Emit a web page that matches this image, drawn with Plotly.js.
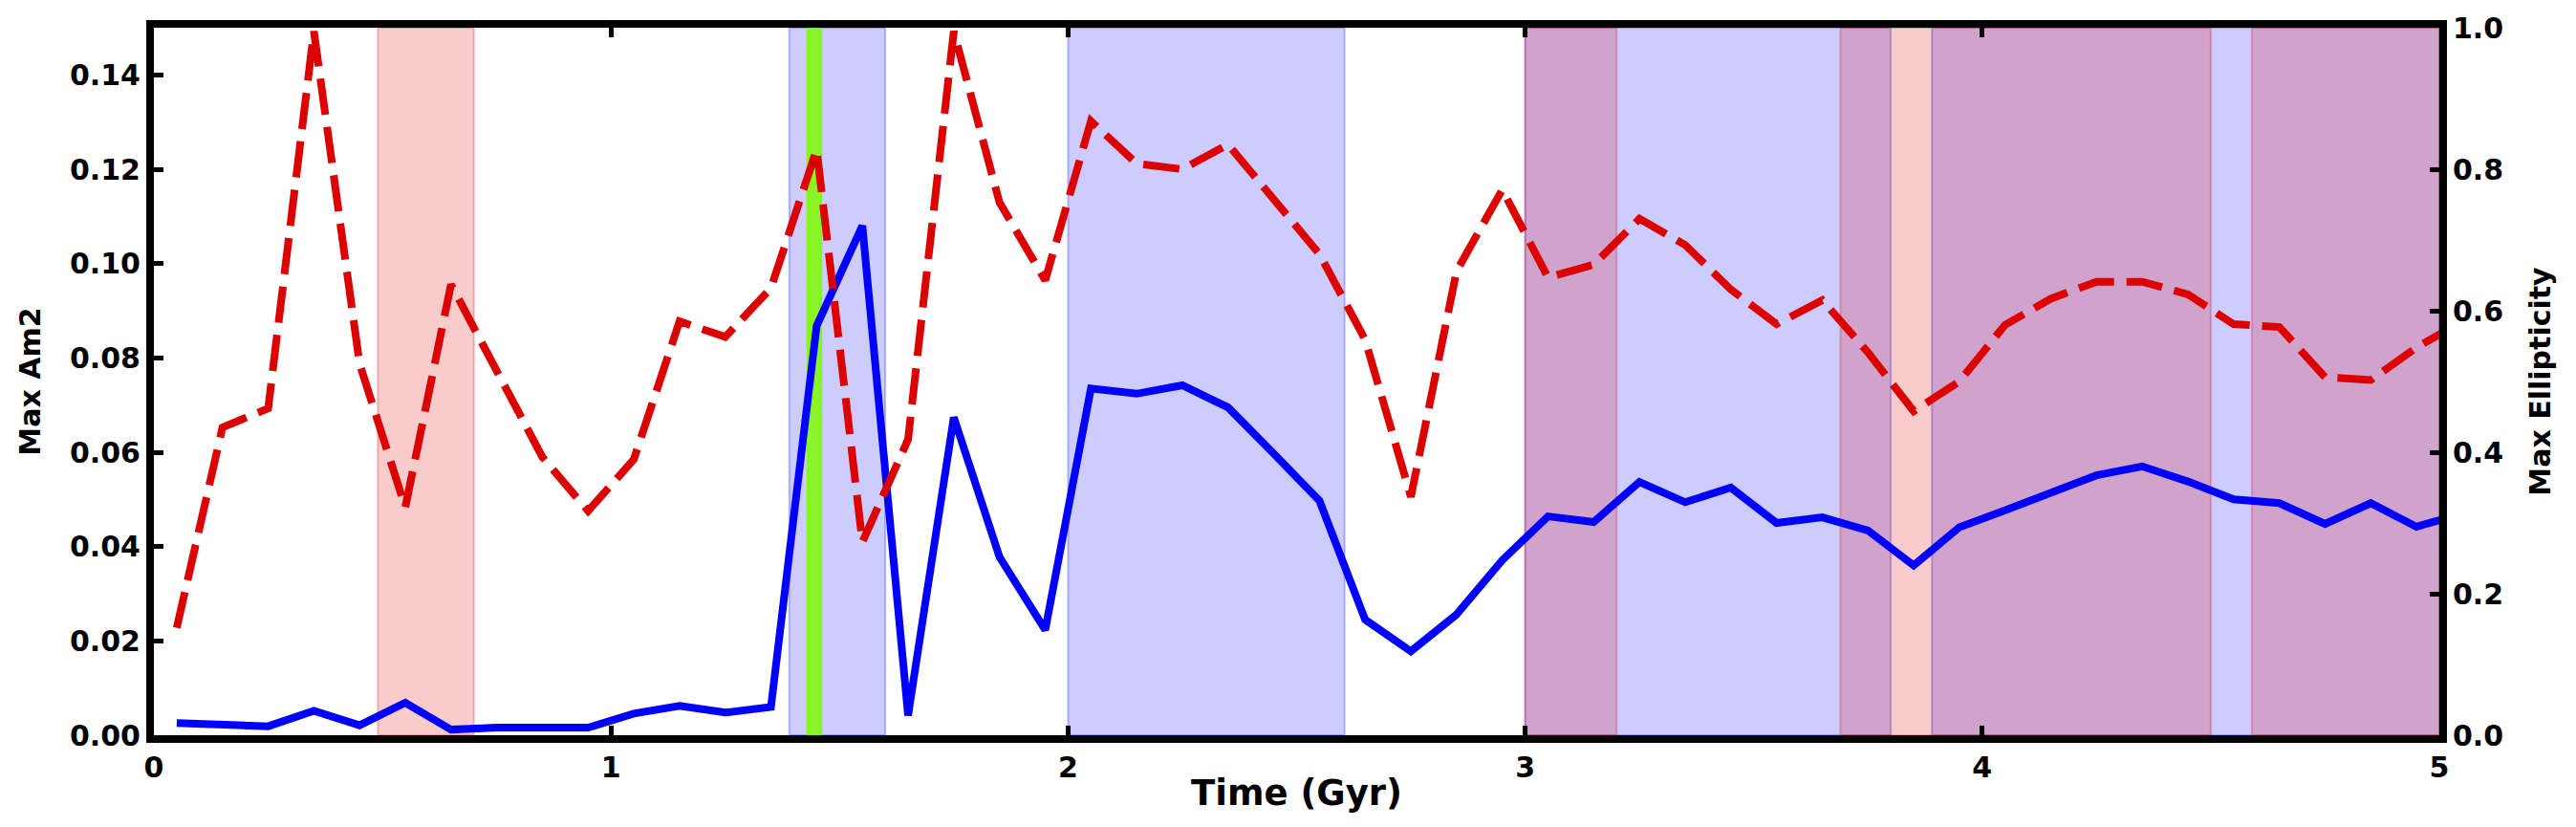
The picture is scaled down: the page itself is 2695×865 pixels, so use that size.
<!DOCTYPE html>
<html>
<head>
<meta charset="utf-8">
<script src="https://cdn.plot.ly/plotly-3.0.1.min.js"></script>
<style>
  body { margin: 0; background: #fff; }
  #plot-area { width: 2695px; height: 865px; }
</style>
</head>
<body>
<div id="plot-area"></div>
<script>
// time samples (Gyr)
const time = [0.05, 0.15, 0.25, 0.35, 0.45, 0.55, 0.65, 0.75, 0.85, 0.95,
              1.05, 1.15, 1.25, 1.35, 1.45, 1.55, 1.65, 1.75, 1.85, 1.95,
              2.05, 2.15, 2.25, 2.35, 2.45, 2.55, 2.65, 2.75, 2.85, 2.95,
              3.05, 3.15, 3.25, 3.35, 3.45, 3.55, 3.65, 3.75, 3.85, 3.95,
              4.05, 4.15, 4.25, 4.35, 4.45, 4.55, 4.65, 4.75, 4.85, 4.95, 5.05]

// Max Am2 (left axis)
const maxAm2 = [0.0026, 0.0021, 0.0019, 0.0052, 0.0021, 0.0069, 0.0012, 0.0016, 0.0017, 0.0016,
                0.0046, 0.0062, 0.0048, 0.0060, 0.0868, 0.1080, 0.0042, 0.0674, 0.0378, 0.0223,
                0.0735, 0.0724, 0.0742, 0.0695, 0.0597, 0.0497, 0.0245, 0.0178, 0.0256, 0.0371,
                0.0464, 0.0452, 0.0537, 0.0494, 0.0525, 0.0450, 0.0462, 0.0434, 0.0360, 0.0441,
                0.0477, 0.0515, 0.0551, 0.0570, 0.0538, 0.0500, 0.0492, 0.0448, 0.0492, 0.0442, 0.0470]

// Max Ellipticity (right axis)
const maxEll = [0.152, 0.435, 0.462, 0.995, 0.525, 0.322, 0.637, 0.515, 0.393, 0.317,
                0.390, 0.585, 0.563, 0.632, 0.828, 0.273, 0.418, 0.995, 0.753, 0.643,
                0.868, 0.808, 0.800, 0.835, 0.756, 0.680, 0.559, 0.337, 0.656, 0.771,
                0.647, 0.665, 0.730, 0.693, 0.630, 0.581, 0.615, 0.541, 0.458, 0.500,
                0.580, 0.617, 0.641, 0.641, 0.623, 0.581, 0.577, 0.506, 0.502, 0.548, 0.585]

// shaded time intervals
const blueSpans = [[1.39, 1.6], [2.0, 2.605], [3.0, 3.8], [3.89, 5.0]]
const redSpans = [[0.49, 0.70], [3.0, 3.2], [3.69, 4.5], [4.59, 5.0]]
const greenSpans = [[1.43, 1.46]]

const xTicks = [0, 1, 2, 3, 4, 5]

function span(s, fill, edge) {
  return {
    type: 'rect', xref: 'x', yref: 'paper',
    x0: s[0], x1: s[1], y0: 0, y1: 1,
    fillcolor: fill, line: {color: edge, width: 2}, layer: 'below'
  }
}

const shapes = []
blueSpans.forEach(s => shapes.push(span(s, 'rgba(0,0,255,0.2)', 'rgba(0,0,255,0.25)')))
redSpans.forEach(s => shapes.push(span(s, 'rgba(225,0,0,0.2)', 'rgba(225,0,0,0.25)')))
greenSpans.forEach(s => shapes.push(span(s, 'rgba(124,252,0,0.85)', 'rgba(124,252,0,0.85)')))

const am2 = {
  name: 'Max Am2',
  x: time, y: maxAm2,
  type: 'scatter', mode: 'lines',
  line: {color: '#0000ff', width: 8},
  yaxis: 'y'
}

const ell = {
  name: 'Max Ellipticity',
  x: time, y: maxEll,
  type: 'scatter', mode: 'lines',
  line: {color: '#dd0000', width: 8, dash: '38px,13px'},
  yaxis: 'y2'
}

const font = {family: 'DejaVu Sans', color: '#000', weight: 'bold'}
const tickFont = Object.assign({}, font, {size: 30})

const layout = {
  width: 2695, height: 865,
  margin: {l: 161, r: 143, t: 29, b: 96},
  showlegend: false,
  paper_bgcolor: '#fff', plot_bgcolor: '#fff',
  font: font,
  shapes: shapes,
  xaxis: {
    range: [0, 5], tickvals: xTicks, ticktext: xTicks.map(String),
    showgrid: false, zeroline: false,
    showline: true, linecolor: '#000', linewidth: 8, mirror: 'ticks',
    ticks: 'inside', ticklen: 10, tickwidth: 5, tickcolor: '#000',
    tickfont: tickFont,
    title: {text: 'Time (Gyr)', font: Object.assign({}, font, {size: 37}), standoff: 0}
  },
  yaxis: {
    range: [0, 0.15], dtick: 0.02, tickformat: '.2f',
    showgrid: false, zeroline: false,
    showline: true, linecolor: '#000', linewidth: 8,
    ticks: 'inside', ticklen: 10, tickwidth: 5, tickcolor: '#000',
    tickfont: tickFont,
    title: {text: 'Max Am2', font: Object.assign({}, font, {size: 30}), standoff: 24}
  },
  yaxis2: {
    range: [0, 1], dtick: 0.2, tickformat: '.1f',
    overlaying: 'y', side: 'right',
    showgrid: false, zeroline: false,
    showline: true, linecolor: '#000', linewidth: 8,
    ticks: 'inside', ticklen: 10, tickwidth: 5, tickcolor: '#000',
    tickfont: tickFont,
    title: {text: 'Max Ellipticity', font: Object.assign({}, font, {size: 30}), standoff: 32}
  }
}

Plotly.newPlot('plot-area', [am2, ell], layout, {staticPlot: true})
</script>
</body>
</html>
